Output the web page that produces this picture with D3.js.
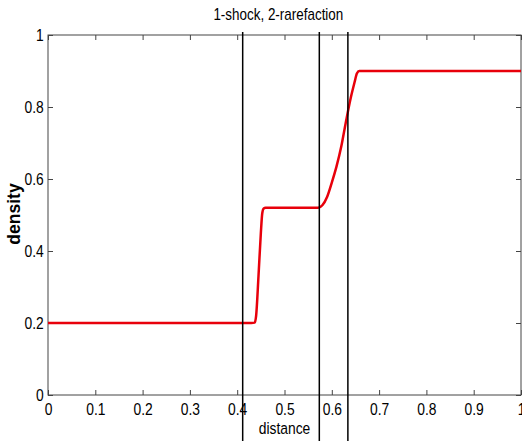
<!DOCTYPE html>
<html>
<head>
<meta charset="utf-8">
<script src="https://cdn.jsdelivr.net/npm/d3@7"></script>
<style>
  body { margin: 0; background: #fff; }
  text { font-family: "Liberation Sans", Arial, sans-serif; }
</style>
</head>
<body>
<div id="canvas"></div>
<script>
// density profile (distance, density)
var distance = [0, 0.1, 0.2, 0.3, 0.4, 0.43, 0.437, 0.44, 0.445, 0.45, 0.453, 0.456, 0.46,
    0.5, 0.55, 0.571, 0.58, 0.59, 0.60, 0.61, 0.62, 0.63, 0.64, 0.648, 0.653, 0.658, 0.7, 0.8, 0.9, 1];
var density = [0.2, 0.2, 0.2, 0.2, 0.2, 0.2, 0.201, 0.22, 0.33, 0.45, 0.505, 0.518, 0.52,
    0.52, 0.52, 0.52, 0.527, 0.55, 0.59, 0.635, 0.69, 0.76, 0.825, 0.868, 0.893, 0.9, 0.9, 0.9, 0.9, 0.9];

// wave positions
var waveLines = [0.4116, 0.5736, 0.634];

var xTicks = [0, 0.1, 0.2, 0.3, 0.4, 0.5, 0.6, 0.7, 0.8, 0.9, 1];
var yTicks = [0, 0.2, 0.4, 0.6, 0.8, 1];

var width = 522, height = 441;
var mLeft = 48, mRight = 521, mTop = 35, mBottom = 395;
var squeeze = 'scale(0.84,1)';

var svg = d3.select('#canvas').append('svg')
    .attr('width', width)
    .attr('height', height);

var x = d3.scaleLinear().domain([0, 1]).range([mLeft, mRight]);
var y = d3.scaleLinear().domain([0, 1]).range([mBottom, mTop]);

function fmt(d) { return d === 0 || d === 1 ? String(d) : d.toFixed(1); }

// bottom axis, ticks inward
var xAxis = svg.append('g')
    .attr('transform', 'translate(0,' + mBottom + ')')
    .call(d3.axisBottom(x).tickValues(xTicks).tickFormat(fmt)
        .tickSizeInner(-5).tickSizeOuter(0).tickPadding(8));
xAxis.select('.domain').remove();
xAxis.selectAll('line').attr('stroke', '#444');
xAxis.selectAll('text')
    .attr('font-size', '16.5px')
    .attr('fill', '#000')
    .attr('transform', squeeze);

// top axis
var xTop = svg.append('g')
    .attr('transform', 'translate(0,' + mTop + ')')
    .call(d3.axisTop(x).tickValues(xTicks).tickFormat('')
        .tickSizeInner(-5).tickSizeOuter(0));
xTop.select('.domain').remove();
xTop.selectAll('line').attr('stroke', '#444');

// left axis
var yAxis = svg.append('g')
    .attr('transform', 'translate(' + mLeft + ',0)')
    .call(d3.axisLeft(y).tickValues(yTicks).tickFormat(fmt)
        .tickSizeInner(-5).tickSizeOuter(0).tickPadding(5));
yAxis.select('.domain').remove();
yAxis.selectAll('line').attr('stroke', '#444');
yAxis.selectAll('text')
    .attr('font-size', '16.5px')
    .attr('fill', '#000')
    .attr('transform', squeeze);

// right axis
var yRight = svg.append('g')
    .attr('transform', 'translate(' + mRight + ',0)')
    .call(d3.axisRight(y).tickValues(yTicks).tickFormat('')
        .tickSizeInner(-5).tickSizeOuter(0));
yRight.select('.domain').remove();
yRight.selectAll('line').attr('stroke', '#444');

// frame
svg.append('rect')
    .attr('x', mLeft)
    .attr('y', mTop)
    .attr('width', mRight - mLeft)
    .attr('height', mBottom - mTop)
    .attr('fill', 'none')
    .attr('stroke', '#444')
    .attr('stroke-width', 1);

// density curve
var line = d3.line()
    .x(function(d, i) { return x(distance[i]); })
    .y(function(d) { return y(d); })
    .curve(d3.curveMonotoneX);

svg.append('path')
    .datum(density)
    .attr('d', line)
    .attr('fill', 'none')
    .attr('stroke', '#e8000b')
    .attr('stroke-width', 2.5)
    .attr('stroke-linejoin', 'round');

// wave lines, running past the axis
svg.selectAll('.wave')
    .data(waveLines)
    .enter()
    .append('line')
    .attr('class', 'wave')
    .attr('x1', function(d) { return x(d); })
    .attr('x2', function(d) { return x(d); })
    .attr('y1', y(1.008))
    .attr('y2', height)
    .attr('stroke', '#000')
    .attr('stroke-width', 1.5);

// labels
svg.append('g')
    .attr('transform', 'translate(' + x(0.487) + ',20) ' + squeeze)
    .append('text')
    .attr('text-anchor', 'middle')
    .attr('font-size', '16px')
    .text('1-shock, 2-rarefaction');

svg.append('g')
    .attr('transform', 'translate(' + x(0.5) + ',434) ' + squeeze)
    .append('text')
    .attr('text-anchor', 'middle')
    .attr('font-size', '16.5px')
    .text('distance');

svg.append('text')
    .attr('transform', 'translate(20,214) rotate(-90)')
    .attr('text-anchor', 'middle')
    .attr('font-size', '17.5px')
    .attr('font-weight', 'bold')
    .text('density');
</script>
</body>
</html>
